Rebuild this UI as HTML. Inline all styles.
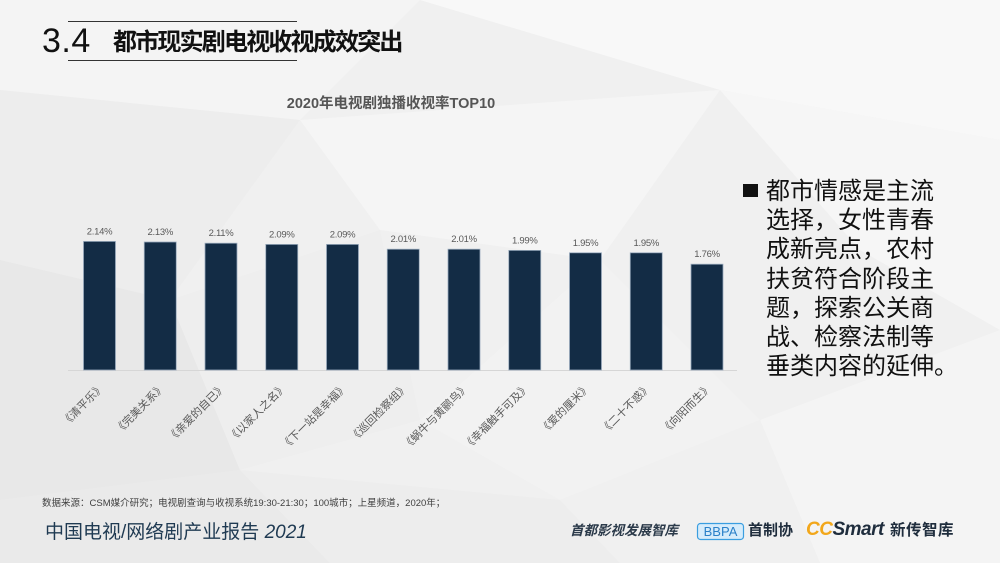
<!DOCTYPE html>
<html>
<head>
<meta charset="utf-8">
<style>
  html,body{margin:0;padding:0;}
  body{width:1000px;height:563px;overflow:hidden;position:relative;background:#efefef;
    font-family:"Liberation Sans","Noto Sans CJK SC",sans-serif;}
  .abs{position:absolute;white-space:nowrap;}
  .rt div{height:29.2px;line-height:29.2px;font-size:24px;color:#111;}
</style>
</head>
<body>
<svg class="abs" style="left:0;top:0" width="1000" height="563" viewBox="0 0 1000 563">
  <rect x="0" y="0" width="1000" height="563" fill="#f0f0f0"/>
  <polygon points="0,0 420,0 300,120 0,90" fill="#f4f4f4"/>
  <polygon points="420,0 1000,0 1000,140 720,90" fill="#f8f8f8"/>
  <polygon points="300,120 720,90 600,260 380,230" fill="#f5f5f5"/>
  <polygon points="720,90 1000,140 1000,330 860,250" fill="#f6f6f6"/>
  <polygon points="0,90 300,120 170,300 0,260" fill="#ededed"/>
  <polygon points="0,260 170,300 240,470 0,500" fill="#e8e8e8"/>
  <polygon points="170,300 380,230 420,420 240,470" fill="#eeeeee"/>
  <polygon points="420,420 600,260 760,420 560,500" fill="#f2f2f2"/>
  <polygon points="760,420 1000,330 1000,563 820,563" fill="#f4f4f4"/>
  <polygon points="0,500 240,470 330,563 0,563" fill="#eaeaea"/>
  <polygon points="240,470 560,500 620,563 330,563" fill="#ededed"/>
  <polygon points="560,500 760,420 820,563 620,563" fill="#f0f0f0"/>

  <!-- header lines -->
  <line x1="68" y1="21.5" x2="297" y2="21.5" stroke="#333" stroke-width="1"/>
  <line x1="68" y1="60.5" x2="297" y2="60.5" stroke="#333" stroke-width="1"/>

  <!-- chart title -->
  <text x="391" y="108" text-anchor="middle" font-size="14.5" font-weight="bold" fill="#555" font-family="Liberation Sans, Noto Sans CJK SC, sans-serif">2020年电视剧独播收视率TOP10</text>

  <!-- axis -->
  <line x1="68" y1="370.5" x2="737" y2="370.5" stroke="#d6d6d6" stroke-width="1"/>

  <g fill="#132c45" stroke="#9aabbd" stroke-width="0.8">
    <rect x="83.5" y="241.4" width="32" height="128.6"/>
    <rect x="144.25" y="242.0" width="32" height="128.0"/>
    <rect x="205" y="243.2" width="32" height="126.8"/>
    <rect x="265.75" y="244.4" width="32" height="125.6"/>
    <rect x="326.5" y="244.4" width="32" height="125.6"/>
    <rect x="387.25" y="249.2" width="32" height="120.8"/>
    <rect x="448" y="249.2" width="32" height="120.8"/>
    <rect x="508.75" y="250.4" width="32" height="119.6"/>
    <rect x="569.5" y="252.8" width="32" height="117.2"/>
    <rect x="630.25" y="252.8" width="32" height="117.2"/>
    <rect x="691" y="264.2" width="32" height="105.8"/>
  </g>

  <g font-size="9.5" fill="#595959" text-anchor="middle" font-family="Liberation Sans, sans-serif" letter-spacing="-0.3">
    <text x="99.5" y="234.4">2.14%</text>
    <text x="160.25" y="235.0">2.13%</text>
    <text x="221" y="236.2">2.11%</text>
    <text x="281.75" y="237.4">2.09%</text>
    <text x="342.5" y="237.4">2.09%</text>
    <text x="403.25" y="242.2">2.01%</text>
    <text x="464" y="242.2">2.01%</text>
    <text x="524.75" y="243.4">1.99%</text>
    <text x="585.5" y="245.8">1.95%</text>
    <text x="646.25" y="245.8">1.95%</text>
    <text x="707" y="257.2">1.76%</text>
  </g>

  <g font-size="11" fill="#595959" text-anchor="end" font-family="Liberation Sans, Noto Sans CJK SC, sans-serif">
    <text transform="translate(105,388) rotate(-45)">《清平乐》</text>
    <text transform="translate(165.75,388) rotate(-45)">《完美关系》</text>
    <text transform="translate(226.5,388) rotate(-45)">《亲爱的自已》</text>
    <text transform="translate(287.25,388) rotate(-45)">《以家人之名》</text>
    <text transform="translate(348,388) rotate(-45)">《下一站是幸福》</text>
    <text transform="translate(408.75,388) rotate(-45)">《巡回检察组》</text>
    <text transform="translate(469.5,388) rotate(-45)">《蜗牛与黄鹂鸟》</text>
    <text transform="translate(530.25,388) rotate(-45)">《幸福触手可及》</text>
    <text transform="translate(591,388) rotate(-45)">《爱的厘米》</text>
    <text transform="translate(651.75,388) rotate(-45)">《二十不惑》</text>
    <text transform="translate(712.5,388) rotate(-45)">《向阳而生》</text>
  </g>

  <!-- BBPA logo box -->
  <rect x="697.5" y="523.5" width="46" height="16" rx="3" fill="#d6ecfb" stroke="#3a9ee0" stroke-width="1.2"/>
  <text x="720.5" y="536" text-anchor="middle" font-size="13" fill="#2a80c8" font-family="Liberation Sans, sans-serif">BBPA</text>
</svg>

<!-- header -->
<div class="abs" style="left:42px;top:21px;font-size:34px;line-height:40px;color:#111;letter-spacing:0.5px;">3.4</div>
<div class="abs" style="left:113px;top:28px;font-size:24px;line-height:30px;font-weight:bold;color:#111;letter-spacing:-1.8px;">都市现实剧电视收视成效突出</div>

<!-- right text -->
<div class="abs" style="left:743px;top:184px;width:15px;height:13px;background:#111;"></div>
<div class="abs rt" style="left:766px;top:177px;">
  <div>都市情感是主流</div>
  <div>选择，女性青春</div>
  <div>成新亮点，农村</div>
  <div>扶贫符合阶段主</div>
  <div>题，探索公关商</div>
  <div>战、检察法制等</div>
  <div>垂类内容的延伸。</div>
</div>

<!-- footer -->
<div class="abs" style="left:42px;top:497px;font-size:9.5px;line-height:14px;color:#404040;">数据来源：CSM媒介研究；电视剧查询与收视系统19:30-21:30；100城市；上星频道，2020年；</div>
<div class="abs" style="left:45px;top:520px;font-size:19px;line-height:26px;color:#1f3a52;">中国电视/网络剧产业报告 <i>2021</i></div>

<div class="abs" style="left:570px;top:522px;font-size:13.5px;line-height:18px;font-weight:bold;font-style:italic;color:#2b3a4a;">首都影视发展智库</div>
<div class="abs" style="left:748px;top:520px;font-size:15px;line-height:22px;font-weight:bold;color:#1f2d3d;">首制协</div>
<div class="abs" style="left:806px;top:518px;font-size:19px;line-height:24px;font-weight:bold;font-style:italic;letter-spacing:-0.5px;"><span style="color:#f2a71b;">CC</span><span style="color:#1f2d3d;">Smart</span></div>
<div class="abs" style="left:890px;top:520px;font-size:15.5px;line-height:22px;font-weight:bold;color:#1f2d3d;letter-spacing:0.5px;">新传智库</div>
</body>
</html>
